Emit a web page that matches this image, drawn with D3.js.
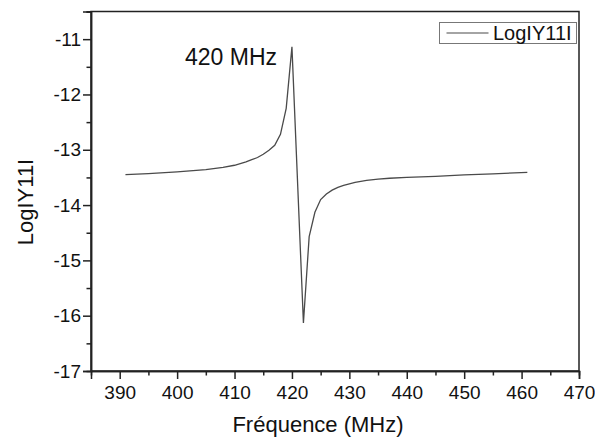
<!DOCTYPE html>
<html>
<head>
<meta charset="utf-8">
<script src="https://cdn.jsdelivr.net/npm/d3@7"></script>
<style>
  html, body { margin: 0; padding: 0; background: #fff; }
  svg { display: block; font-family: "Liberation Sans", Arial, sans-serif; }
</style>
</head>
<body>
<svg id="chart" width="595" height="441"></svg>
<script>
// ---- data ----
const frequency = [391, 395, 400, 405, 408, 410, 412, 413, 414, 415, 416, 417, 418, 419, 420,
                   422, 423, 424, 425, 426, 427, 428, 429, 430, 431, 432, 433, 435, 437, 440, 445, 450, 455, 461];
const logY11 =    [-13.45, -13.43, -13.40, -13.36, -13.32, -13.28, -13.22, -13.18, -13.14, -13.08, -13.01, -12.92, -12.72, -12.25, -11.14,
                   -16.13, -14.57, -14.13, -13.90, -13.80, -13.73, -13.68, -13.645, -13.615, -13.59, -13.57, -13.555, -13.53, -13.515, -13.50, -13.48, -13.455, -13.435, -13.41];
const xTicks = [390, 400, 410, 420, 430, 440, 450, 460, 470];
const xMinorTicks = [395, 405, 415, 425, 435, 445, 455, 465];
const yTicks = [-17, -16, -15, -14, -13, -12, -11];
const yMinorTicks = [-16.5, -15.5, -14.5, -13.5, -12.5, -11.5, -10.5];
const seriesName = "LogIY11I";
const annotation = "420 MHz";
const xTitle = "Fréquence (MHz)";
const yTitle = "LogIY11I";

// ---- layout ----
const L = 91, R = 579, T = 11.5, B = 371;
const svg = d3.select("#chart");
const x = d3.scaleLinear().domain([385, 470]).range([L, R]);
const y = d3.scaleLinear().domain([-17, -10.5]).range([B, T]);

// frame
svg.append("rect").attr("x", L).attr("y", T).attr("width", R - L).attr("height", B - T)
  .attr("fill", "none").attr("stroke", "#222").attr("stroke-width", 1.5);

// x axis
const gx = svg.append("g").attr("transform", `translate(0,${B})`);
gx.call(d3.axisBottom(x).tickValues(xTicks).tickSize(8).tickPadding(7).tickFormat(d3.format("d")));
gx.append("g").call(d3.axisBottom(x).tickValues(xMinorTicks).tickSize(4.5).tickFormat(""));
// y axis
const gy = svg.append("g").attr("transform", `translate(${L},0)`);
gy.call(d3.axisLeft(y).tickValues(yTicks).tickSize(8).tickPadding(2).tickFormat(d => d3.format("d")(d).replace("−", "-")));
gy.append("g").call(d3.axisLeft(y).tickValues(yMinorTicks).tickSize(4.5).tickFormat(""));

svg.selectAll(".domain").attr("stroke", "#222").attr("stroke-width", 1.5);
svg.selectAll(".tick line").attr("stroke", "#222").attr("stroke-width", 1.5);
svg.selectAll(".tick text").attr("font-size", 19).attr("fill", "#111")
  .attr("font-family", "'Liberation Sans', Arial, sans-serif");

// line
const data = frequency.map((f, i) => ({ f, v: logY11[i] }));
svg.append("path").datum(data)
  .attr("fill", "none").attr("stroke", "#4a4a4a").attr("stroke-width", 1.3)
  .attr("stroke-linejoin", "miter")
  .attr("d", d3.line().x(d => x(d.f)).y(d => y(d.v)));

// annotation
svg.append("text").attr("x", 185).attr("y", 65).attr("font-size", 23).attr("fill", "#111")
  .text(annotation);

// axis titles
svg.append("text").attr("x", 318).attr("y", 432).attr("text-anchor", "middle")
  .attr("font-size", 22).attr("fill", "#111").text(xTitle);
svg.append("text").attr("transform", "translate(33,202) rotate(-90)").attr("text-anchor", "middle")
  .attr("font-size", 22).attr("fill", "#111").text(yTitle);

// legend
const lg = svg.append("g");
lg.append("rect").attr("x", 439.5).attr("y", 22.5).attr("width", 137).attr("height", 21)
  .attr("fill", "#fff").attr("stroke", "#777").attr("stroke-width", 1);
lg.append("line").attr("x1", 446.5).attr("x2", 488.5).attr("y1", 33).attr("y2", 33)
  .attr("stroke", "#4a4a4a").attr("stroke-width", 1.2);
lg.append("text").attr("x", 493).attr("y", 39.5).attr("font-size", 20).attr("fill", "#111")
  .text(seriesName);
</script>
</body>
</html>
